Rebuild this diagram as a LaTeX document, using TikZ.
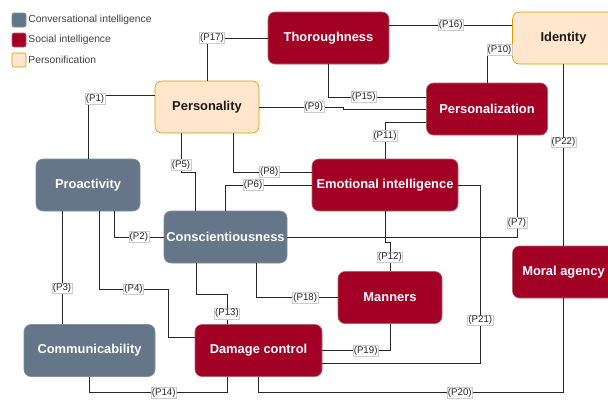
\documentclass[tikz,border=0pt]{standalone}
\usepackage{fontspec}
\setmainfont{Liberation Sans}
\usepackage{tikz}
\usetikzlibrary{shapes}
\definecolor{slate}{HTML}{647687}
\definecolor{slatedark}{HTML}{314354}
\definecolor{crimson}{HTML}{A20025}
\definecolor{crimsondark}{HTML}{6F0000}
\definecolor{peach}{HTML}{FFE6CC}
\definecolor{peachdark}{HTML}{D79B00}
\tikzstyle{box}=[rectangle,rounded corners=7pt,minimum height=52pt,inner sep=0pt,line width=0.6pt,font=\bfseries\fontsize{12.9}{14}\selectfont]
\tikzstyle{conv}=[box,fill=slate,draw=slatedark!60,text=white]
\tikzstyle{social}=[box,fill=crimson,draw=crimsondark!60,text=white]
\tikzstyle{persona}=[box,fill=peach,draw=peachdark,text=black!90]
\tikzstyle{lbl}=[rectangle,fill=white,draw=black!20,line width=0.4pt,inner sep=0.8pt,text=black!85,font=\fontsize{9.7}{10}\selectfont]
\tikzstyle{legbox}=[rectangle,rounded corners=2pt,minimum size=14pt,inner sep=0pt,line width=0.6pt]
\tikzstyle{legtext}=[anchor=west,inner sep=0pt,text=black!75,font=\fontsize{10.3}{12}\selectfont]
\tikzset{every picture/.style={
    x=1pt,y=-1pt,line width=0.9pt
  }
}

\begin{document}
\begin{tikzpicture}[draw=black!85]
      \useasboundingbox (0,0) rectangle (608,402);
      \node[legbox,fill=slate,draw=slatedark!60] at (19,20) (lconv) {};
      \node[legbox,fill=crimson,draw=crimsondark!60] at (19,40) (lsoc) {};
      \node[legbox,fill=peach,draw=peachdark] at (19,60) (lpers) {};
      \node[legtext] at (28,20) (lconvt) {Conversational intelligence};
      \node[legtext] at (28,40) (lsoct) {Social intelligence};
      \node[legtext] at (28,60) (lperst) {Personification};
      \node[social,minimum width=121pt] at (328.5,38) (thor) {Thoroughness};
      \node[persona,minimum width=102pt] at (563.5,38) (ident) {Identity};
      \node[persona,minimum width=104pt] at (207,107) (pers) {Personality};
      \node[social,minimum width=121pt] at (487,109) (perz) {Personalization};
      \node[conv,minimum width=104pt] at (88,185) (proa) {Proactivity};
      \node[social,minimum width=146pt] at (385,185) (emo) {Emotional intelligence};
      \node[conv,minimum width=123pt] at (225.5,237) (consc) {Conscientiousness};
      \node[social,minimum width=102pt] at (563.5,272) (moral) {Moral agency};
      \node[social,minimum width=104pt] at (390,297.5) (mann) {Manners};
      \node[conv,minimum width=131pt] at (89.5,350.5) (comm) {Communicability};
      \node[social,minimum width=127pt] at (258.5,350.5) (dmg) {Damage control};
      \draw ([yshift=12pt]pers.west) -| node[lbl,pos=0.5,xshift=7pt,yshift=-4pt]{(P1)} (proa.north);
      \draw ([xshift=26pt]proa.south) |- node[lbl,pos=0.75]{(P2)} (consc.west);
      \draw ([xshift=-26pt]proa.south) -- node[lbl,pos=0.68]{(P3)} ([xshift=-27.5pt]comm.north);
      \draw ([xshift=11pt]proa.south) |- node[lbl,pos=0.75]{(P4)} ++(69,78) |- ([yshift=13pt]dmg.west);
      \draw ([xshift=-26pt]pers.south) -- node[lbl,pos=0.8]{(P5)} ++(0,39) -| ([xshift=-30.5pt]consc.north);
      \draw (emo.west) -| node[lbl,pos=0.34]{(P6)} (consc.north);
      \draw ([xshift=30pt]perz.south) |- node[lbl,pos=0.43]{(P7)} (consc.east);
      \draw ([xshift=26pt]pers.south) |- node[lbl,pos=0.73]{(P8)} ([yshift=13pt]emo.west);
      \draw (pers.east) -- node[lbl,pos=0.65]{(P9)} ++(84,0) |- (perz.west);
      \draw (perz.north) |- node[lbl,pos=0.75]{(P10)} ([yshift=-12pt]ident.west);
      \draw ([yshift=-13pt]perz.west) -| node[lbl,pos=0.69]{(P11)} (emo.north);
      \draw (emo.south) -- ++(0,31) -| node[lbl,pos=0.76]{(P12)} (mann.north);
      \draw ([xshift=-29.5pt]consc.south) -- ++(0,31) -| node[lbl,pos=0.82]{(P13)} ([xshift=-31.5pt]dmg.north);
      \draw (comm.south) -- ++(0,16) -| node[lbl,pos=0.27]{(P14)} ([xshift=-31.5pt]dmg.south);
      \draw (thor.south) |- node[lbl,pos=0.68]{(P15)} ([yshift=12pt]perz.west);
      \draw ([yshift=13pt]thor.east) -- node[lbl]{(P16)} ([yshift=13pt]ident.west);
      \draw (thor.west) -| node[lbl,pos=0.5,xshift=5pt]{(P17)} (pers.north);
      \draw ([xshift=31pt]consc.south) |- node[lbl,pos=0.8]{(P18)} (mann.west);
      \draw (mann.south) |- node[lbl,pos=0.68]{(P19)} (dmg.east);
      \draw (dmg.south) -- ++(0,16) -| node[lbl,pos=0.33]{(P20)} (moral.south);
      \draw (emo.east) -| node[lbl,pos=0.88]{(P21)} ++(22,178) -- ([yshift=-12.5pt]dmg.east);
      \draw (ident.south) -- node[lbl,pos=0.43]{(P22)} (moral.north);
    \end{tikzpicture}
\end{document}
